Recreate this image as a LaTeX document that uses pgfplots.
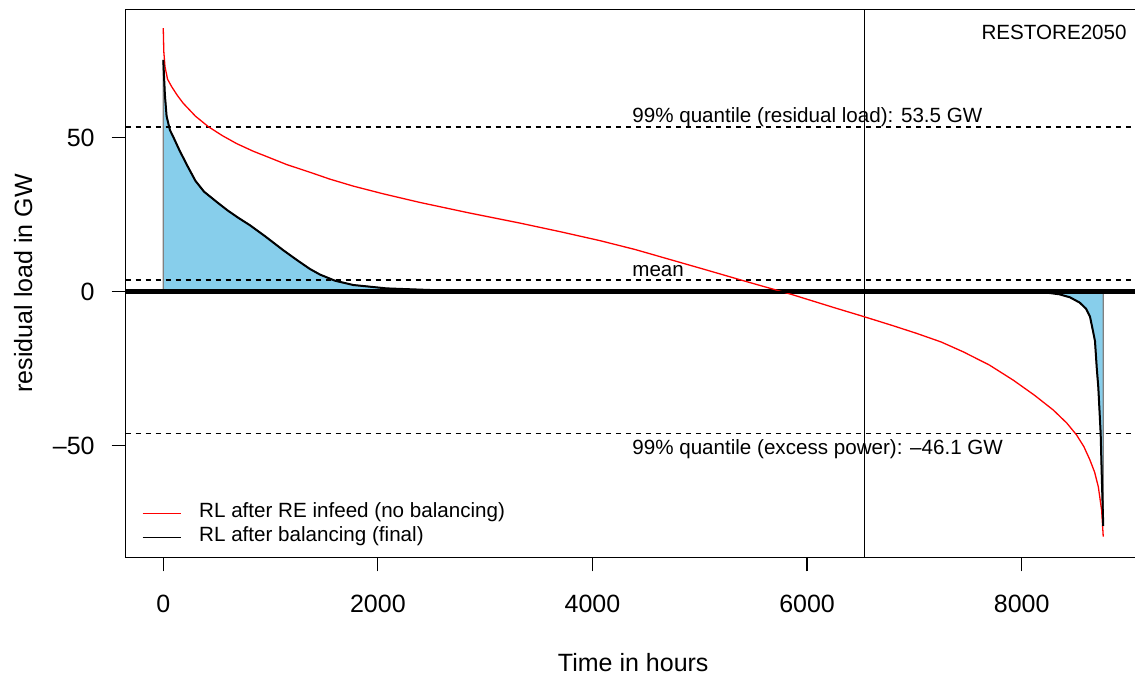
\documentclass[border=0pt]{standalone}
\usepackage{fontspec}
\setmainfont{Liberation Sans}
\usepackage{pgfplots}
\pgfplotsset{compat=1.18}
\definecolor{skyblue}{HTML}{87CEEB}
\newcommand{\annot}{\fontsize{10.3}{12}\selectfont}
\newcommand{\lab}{\fontsize{12.5}{15}\selectfont}

\begin{document}
\begin{tikzpicture}
\begin{axis}[
  name=ax,
  scale only axis, width=507.5pt, height=274pt,
  xmin=-350, xmax=9110, ymin=-86.2, ymax=91.7,
  axis line style={line width=0.6pt},
  tick pos=left, tick align=outside, major tick length=7pt,
  tick style={black, line width=0.6pt},
  xtick={0,2000,4000,6000,8000}, xticklabels={0,2000,4000,6000,8000},
  ytick={-50,0,50}, yticklabels={--50,0,50},
  xticklabel style={font=\lab, anchor=base, inner sep=0pt},
  xticklabel shift=20.7pt,
  yticklabel style={font=\lab, anchor=east, inner sep=0pt},
  yticklabel shift=8.35pt,
  legend cell align=left,
  legend image code/.code={\draw[#1, line width=0.6pt] (0pt,0pt) -- (19pt,0pt);},
  legend style={at={(rel axis cs:0,0)}, anchor=south west,
    xshift=8.15pt, yshift=4pt, draw=none, fill=none,
    inner sep=0pt, outer sep=0pt, row sep=0pt, column sep=9pt,
    font=\annot, nodes={inner sep=0pt, text height=8pt, text depth=4pt}},
]
% balancing area
\addplot[fill=skyblue, draw=gray, line width=0.6pt, forget plot] coordinates {
  (0,0) (0,75.3) (15,64) (31,57) (62,52.5) (93,50.3) (150,46) (220,41.2)
  (300,36) (380,32.5) (497,29.2) (600,26.4) (700,24) (808,21.6)
  (950,18) (1118,13.5) (1250,10.2) (1367,7.4) (1460,5.6) (1600,3.6)
  (1771,2.2) (2082,1.1) (2548,0.5) (2700,0.1) (3000,0) (8170,0)
  (8350,-0.8) (8450,-1.8) (8540,-3.5) (8600,-5.5) (8636,-8) (8660,-12)
  (8683,-16) (8700,-25) (8714,-31) (8736,-46) (8748,-62) (8760,-76) (8760,0)};
% reference lines
\addplot[black, line width=2.5pt, forget plot] coordinates {(-350,0) (9110,0)};
\addplot[black, line width=0.6pt, dash pattern=on 2.5pt off 2.5pt, forget plot] coordinates {(-350,53.5) (9110,53.5)};
\addplot[black, line width=0.6pt, dash pattern=on 2.5pt off 2.5pt, forget plot] coordinates {(-350,3.8) (9110,3.8)};
\addplot[black, line width=0.6pt, dash pattern=on 2.5pt off 2.5pt, forget plot] coordinates {(-350,-46.1) (9110,-46.1)};
\addplot[black, line width=0.6pt, forget plot] coordinates {(6533,-86.2) (6533,91.7)};
% residual load curves
\addplot[red, line width=0.65pt] coordinates {
  (0,85.6) (5,78) (16,73.1) (40,69) (78,66.6) (130,63.8) (186,61.2)
  (300,57) (420,53.6) (550,50.7) (684,48.1) (840,45.6) (1000,43.4)
  (1150,41.3) (1367,38.8) (1550,36.6) (1771,34.3) (2050,31.8)
  (2392,29) (2850,25.6) (3324,22.3) (3700,19.5) (4070,16.6)
  (4400,13.7) (4700,10.7) (5050,7.2) (5406,3.6) (5850,-0.8)
  (6276,-5.4) (6533,-8.1) (6800,-11) (7021,-13.5) (7250,-16.3)
  (7456,-19.5) (7700,-23.8) (7922,-28.7) (8120,-33.6) (8295,-38.4)
  (8420,-42.6) (8512,-46.5) (8580,-50.3) (8636,-54.6) (8680,-58.6)
  (8714,-63.3) (8745,-70.9) (8760,-79.5)};
\addlegendentry{RL after RE infeed (no balancing)}
\addplot[black, line width=1pt] coordinates {
  (0,75.3) (15,64) (31,57) (62,52.5) (93,50.3) (150,46) (220,41.2)
  (300,36) (380,32.5) (497,29.2) (600,26.4) (700,24) (808,21.6)
  (950,18) (1118,13.5) (1250,10.2) (1367,7.4) (1460,5.6) (1600,3.6)
  (1771,2.2) (2082,1.1) (2548,0.5) (2700,0.1) (3000,0) (8170,0)
  (8350,-0.8) (8450,-1.8) (8540,-3.5) (8600,-5.5) (8636,-8) (8660,-12)
  (8683,-16) (8700,-25) (8714,-31) (8736,-46) (8748,-62) (8760,-76)};
\addlegendentry{RL after balancing (final)}
% annotations
\node[anchor=base west, inner sep=0pt, font=\annot, yshift=2pt] at (axis cs:4368,53.5) {99\% quantile (residual load): 53.5 GW};
\node[anchor=base west, inner sep=0pt, font=\annot, yshift=1.7pt] at (axis cs:4368,3.8) {mean};
\node[anchor=base west, inner sep=0pt, font=\annot, yshift=-10.5pt] at (axis cs:4368,-46.1) {99\% quantile (excess power): --46.1 GW};
\node[anchor=base east, inner sep=0pt, font=\annot] at ([xshift=-6.9pt,yshift=-15.35pt]rel axis cs:1,1) {RESTORE2050};
\end{axis}
\node[font=\lab, anchor=base, inner sep=0pt] at ([yshift=-57.2pt]ax.south) {Time in hours};
\node[font=\lab, rotate=90, anchor=base, inner sep=0pt] at ([xshift=-46.85pt]ax.west) {residual load in GW};
\pgfresetboundingbox
\useasboundingbox ([xshift=-62.85pt,yshift=-58.85pt]ax.south west) rectangle ([xshift=-2.9pt,yshift=4.65pt]ax.north east);
\end{tikzpicture}
\end{document}
